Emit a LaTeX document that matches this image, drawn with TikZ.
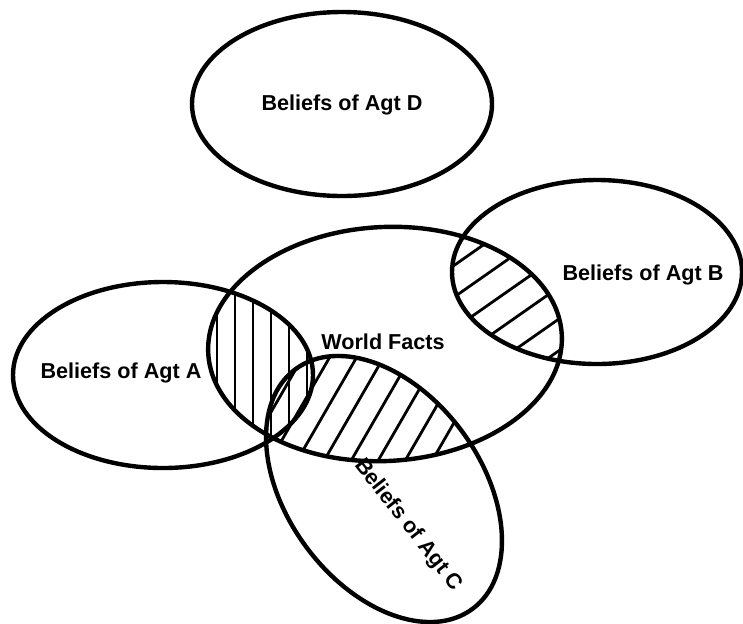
\documentclass[tikz,border=0pt]{standalone}
\usepackage{fontspec}
\setmainfont{Liberation Sans}
\usepackage{tikz}

\begin{document}
\begin{tikzpicture}[x=0.5pt,y=-0.5pt,agt/.style={line width=2.2pt},
                    hatch/.style={line width=1.4pt}]
  \tikzstyle{every node}=[font=\bfseries\fontsize{10.8}{13}\selectfont]
  \useasboundingbox (0,0) rectangle (743,623);

  \coordinate (d) at (342,104);
  \coordinate (a) at (163,375);
  \coordinate (b) at (597,272);
  \coordinate (w) at (385,344);
  \coordinate (c) at (384,489);

  % A and world facts
  \begin{scope}
    \clip (a) ellipse (150 and 93);
    \clip[rotate around={3:(w)}] (w) ellipse (177 and 117);
    \foreach \x in {217,235,...,325}
      \draw[hatch] (\x,250) -- (\x,480);
  \end{scope}

  % C and world facts
  \begin{scope}
    \clip[rotate around={3:(w)}] (w) ellipse (177 and 117);
    \clip[rotate around={-53.6:(c)}] (c) ellipse (149 and 97);
    \foreach \k in {-8,...,8}
      \draw[hatch,shift={(c)},rotate=-30] (\k*23.4-42.7,-250) -- (\k*23.4-42.7,250);
  \end{scope}

  % B and world facts
  \begin{scope}
    \clip[rotate around={3:(w)}] (w) ellipse (177 and 117);
    \clip (b) ellipse (145 and 92);
    \foreach \k in {-8,...,8}
      \draw[hatch,shift={(b)},rotate=-55] (\k*26-61.4,-250) -- (\k*26-61.4,250);
  \end{scope}

  \draw[agt] (d) ellipse (150 and 92);
  \draw[agt] (a) ellipse (150 and 93);
  \draw[agt] (b) ellipse (145 and 92);
  \draw[agt,rotate around={3:(w)}] (w) ellipse (177 and 117);
  \draw[agt,rotate around={-53.6:(c)}] (c) ellipse (149 and 97);

  \node (ld) at (342,105) {Beliefs of Agt D};
  \node (la) at (121,373) {Beliefs of Agt A};
  \node (lb) at (643,275) {Beliefs of Agt B};
  \node (lw) at (383,342) {World Facts};
  \node[rotate=-52] (lc) at (408,525) {Beliefs of Agt C};
\end{tikzpicture}
\end{document}
